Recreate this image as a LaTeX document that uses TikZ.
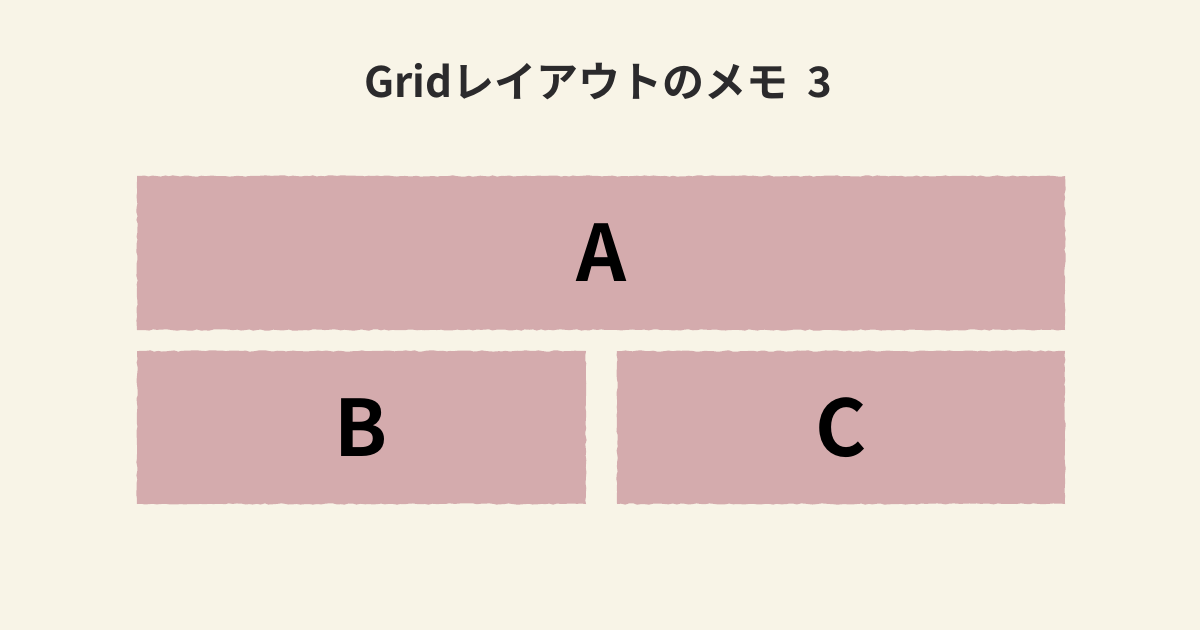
\documentclass[tikz,border=0pt]{standalone}
\usepackage{fontspec}
\setmainfont{Noto Sans CJK JP}[BoldFont={Noto Sans CJK JP Bold}]
\usetikzlibrary{positioning,decorations.pathmorphing}
\definecolor{paper}{HTML}{F8F4E7}
\definecolor{cell}{HTML}{D4ABAD}
\definecolor{ink}{HTML}{2B2A2C}

\begin{document}
\begin{tikzpicture}[
  x=1pt, y=-1pt,
  cellbox/.style={fill=cell,inner sep=0pt,minimum height=154pt,
                  decorate,decoration={random steps,segment length=4pt,amplitude=0.7pt},
                  font=\fontsize{78}{78}\selectfont\bfseries,text=black},
]
\useasboundingbox[fill=paper] (0,0) rectangle (1200,630);
\node[font=\fontsize{42}{42}\selectfont\bfseries,text=ink] (title) at (598,82) {Gridレイアウトのメモ\hspace{0.45em}3};
\node[cellbox,minimum width=928pt] (a) at (601,253) {A};
\node[cellbox,minimum width=449pt,minimum height=153pt] (b) at (361.5,427.5) {B};
\node[cellbox,minimum width=448pt,minimum height=153pt] (c) at (841,427.5) {C};
\end{tikzpicture}
\end{document}
